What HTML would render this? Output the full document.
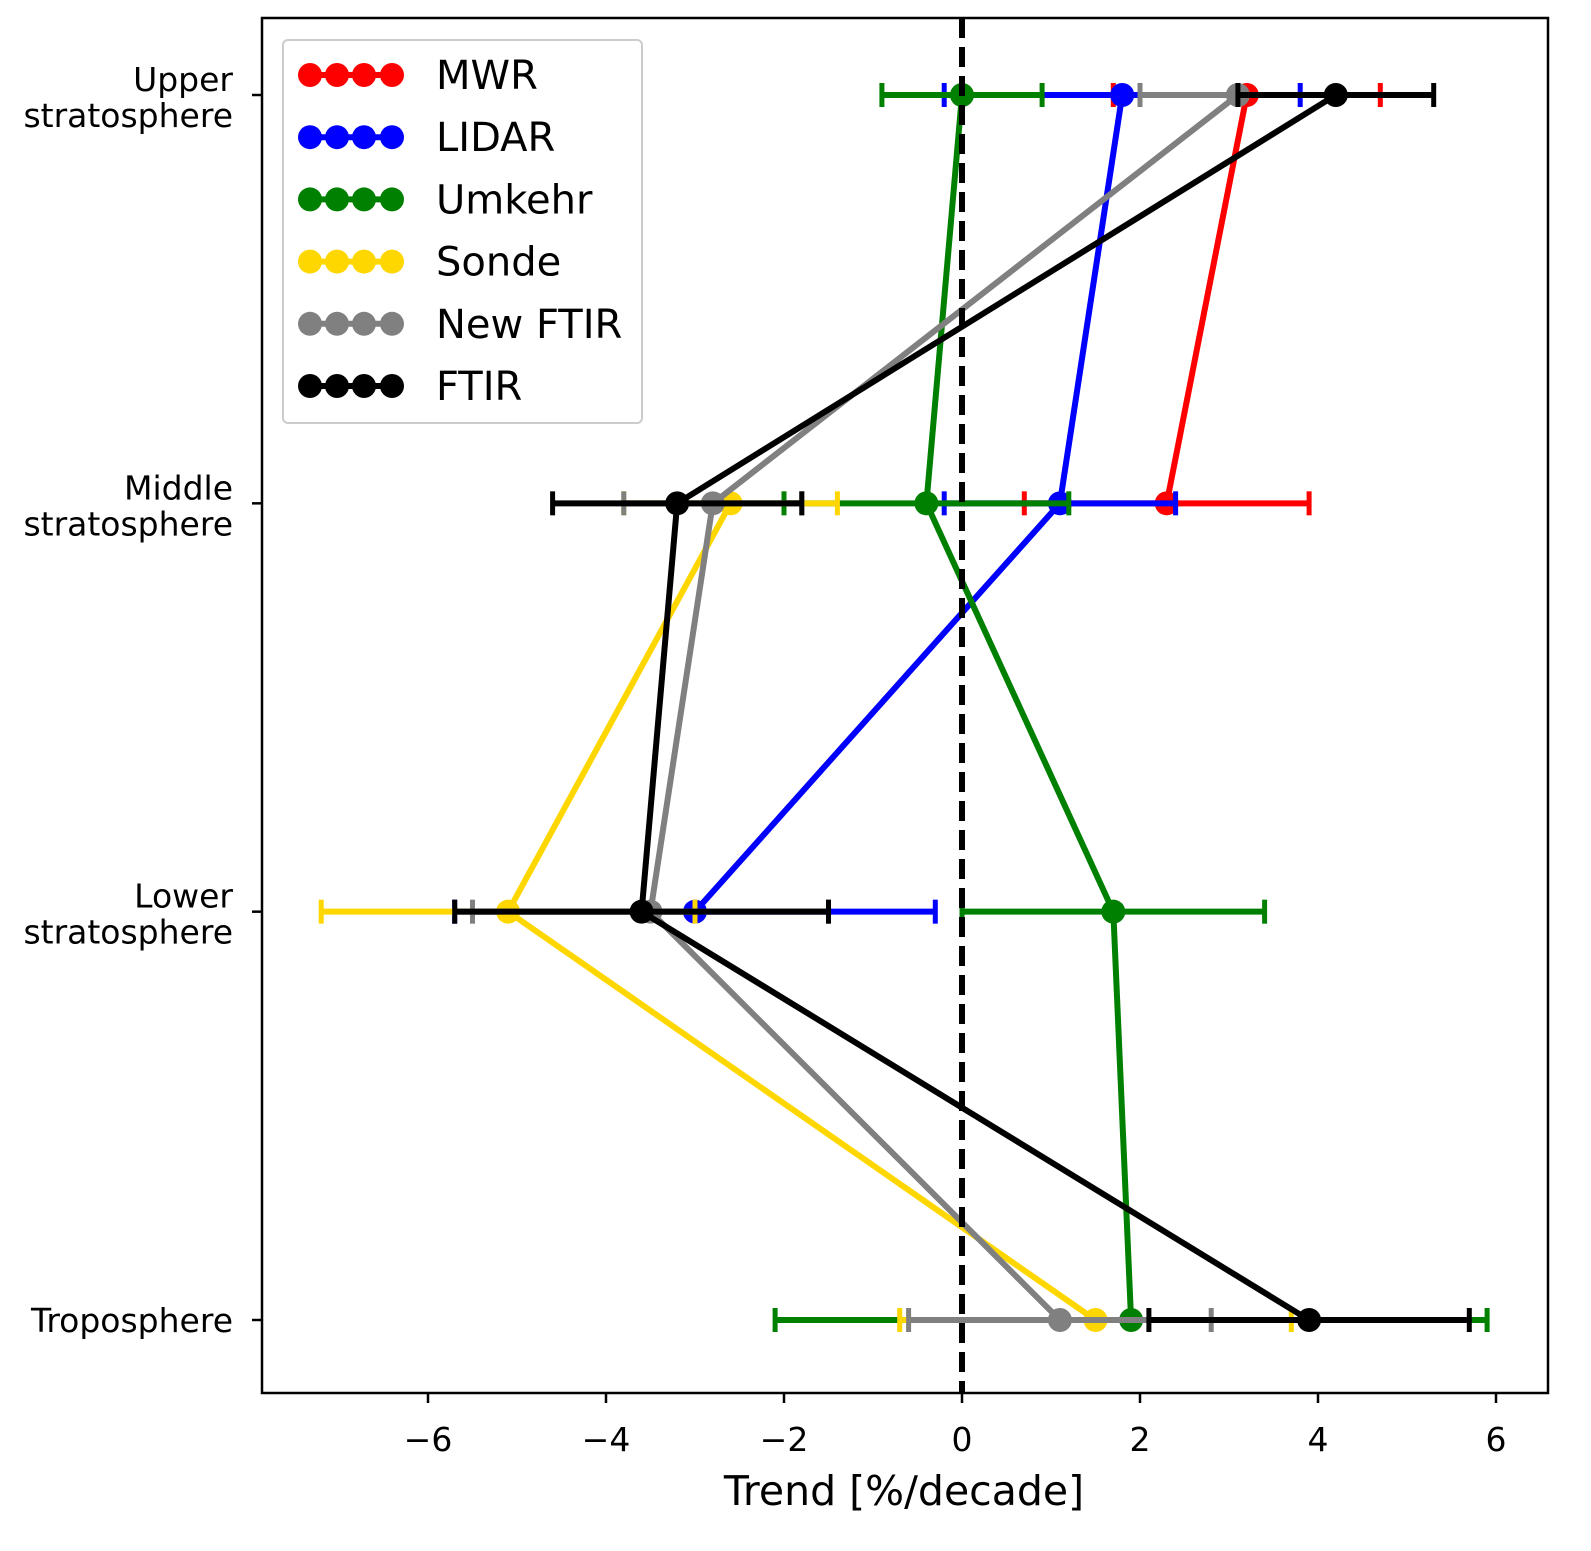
<!DOCTYPE html>
<html><head><meta charset="utf-8"><style>
body{margin:0;background:#fff;}
svg{display:block;font-family:"DejaVu Sans","Liberation Sans",sans-serif;}
</style></head><body>
<svg id="chart" width="1591" height="1551" xmlns="http://www.w3.org/2000/svg"></svg>
<script>
const levels = ["Troposphere","Lower stratosphere","Middle stratosphere","Upper stratosphere"];
const seriesNames = ["MWR","LIDAR","Umkehr","Sonde","New FTIR","FTIR"];
const seriesColors = ["#ff0000","#0000ff","#008000","#ffd700","#808080","#000000"];
const mwrVals = [null,null,2.3,3.2];
const mwrErr  = [null,null,1.6,1.5];
const lidarVals = [null,-3.0,1.1,1.8];
const lidarErr  = [null,2.7,1.3,2.0];
const umkehrVals = [1.9,1.7,-0.4,0.0];
const umkehrErr  = [4.0,1.7,1.6,0.9];
const sondeVals = [1.5,-5.1,-2.6,null];
const sondeErr  = [2.2,2.1,1.2,null];
const newFtirVals = [1.1,-3.5,-2.8,3.1];
const newFtirErr  = [1.7,2.0,1.0,1.1];
const ftirVals = [3.9,-3.6,-3.2,4.2];
const ftirErr  = [1.8,2.1,1.4,1.1];
const xTicks = [-6,-4,-2,0,2,4,6];

const vals=[mwrVals,lidarVals,umkehrVals,sondeVals,newFtirVals,ftirVals];
const errs=[mwrErr,lidarErr,umkehrErr,sondeErr,newFtirErr,ftirErr];
const svg=document.getElementById('chart');
const NS='http://www.w3.org/2000/svg';
const L=262,R=1548,T=18,B=1393;
const x=v=>962+v*(1497-429)/12;
const y=i=>1320-i*(1320-95)/3;
function el(t,a,p){const e=document.createElementNS(NS,t);for(const k in a)e.setAttribute(k,a[k]);(p||svg).appendChild(e);return e;}

vals.forEach((vs,s)=>{
  const g=el('g',{});
  
  
  const c=seriesColors[s];
  const pts=[];vs.forEach((v,i)=>{if(v!==null)pts.push(x(v)+','+y(i));});
  const pl=el('polyline',{points:pts.join(' '),fill:'none',stroke:c,'stroke-width':6},g);
  
  
  vs.forEach((v,i)=>{
    if(v===null)return;
    const e=errs[s][i],yy=y(i);
    el('line',{x1:x(v-e),x2:x(v+e),y1:yy,y2:yy,stroke:c,'stroke-width':6},g);
    el('line',{x1:x(v-e),x2:x(v-e),y1:yy-12,y2:yy+12,stroke:c,'stroke-width':5},g);
    el('line',{x1:x(v+e),x2:x(v+e),y1:yy-12,y2:yy+12,stroke:c,'stroke-width':5},g);
    const m=el('circle',{cx:x(v),cy:yy,r:12,fill:c},g);
    
    
  });
});
const zl=el('line',{x1:x(0),x2:x(0),y1:T,y2:B,stroke:'#000','stroke-width':6,'stroke-dasharray':'20,9'});



const fr=el('rect',{x:L,y:T,width:R-L,height:B-T,fill:'none',stroke:'#000','stroke-width':2.5});


xTicks.forEach(t=>{
  el('line',{x1:x(t),x2:x(t),y1:B,y2:B+10,stroke:'#000','stroke-width':2.5});
  const tx=el('text',{x:x(t),y:B+58,'font-size':33,'text-anchor':'middle'});
  tx.textContent=(t<0?'\u2212'+(-t):t);
  
  
});
const ylab=[["Troposphere"],["Lower","stratosphere"],["Middle","stratosphere"],["Upper","stratosphere"]];
ylab.forEach((ls,i)=>{
  el('line',{x1:L-10,x2:L,y1:y(i),y2:y(i),stroke:'#000','stroke-width':2.5});
  ls.forEach((s,j)=>{
    const tx=el('text',{x:233,y:y(i)+12+(ls.length===2?(j===0?-16:20):0),'font-size':33,'text-anchor':'end'});
    tx.textContent=s;
    
    
  });
});
const xt=el('text',{x:904,y:1505,'font-size':41,'text-anchor':'middle'});
xt.textContent='Trend [%/decade]';



const lg=el('g',{});


el('rect',{x:283,y:40,width:359,height:383,rx:5,fill:'#fff',stroke:'#ccc','stroke-width':2},lg);
seriesNames.forEach((n,s)=>{
  const yy=75+s*62.2;
  const g=el('g',{},lg);
  
  
  el('line',{x1:310,x2:392,y1:yy,y2:yy,stroke:seriesColors[s],'stroke-width':6},g);
  [310,337,364,392].forEach(cx=>el('circle',{cx:cx,cy:yy,r:12,fill:seriesColors[s]},g));
  const t=el('text',{x:436,y:yy+14,'font-size':40},g);
  t.textContent=n;
});
</script>
</body></html>
